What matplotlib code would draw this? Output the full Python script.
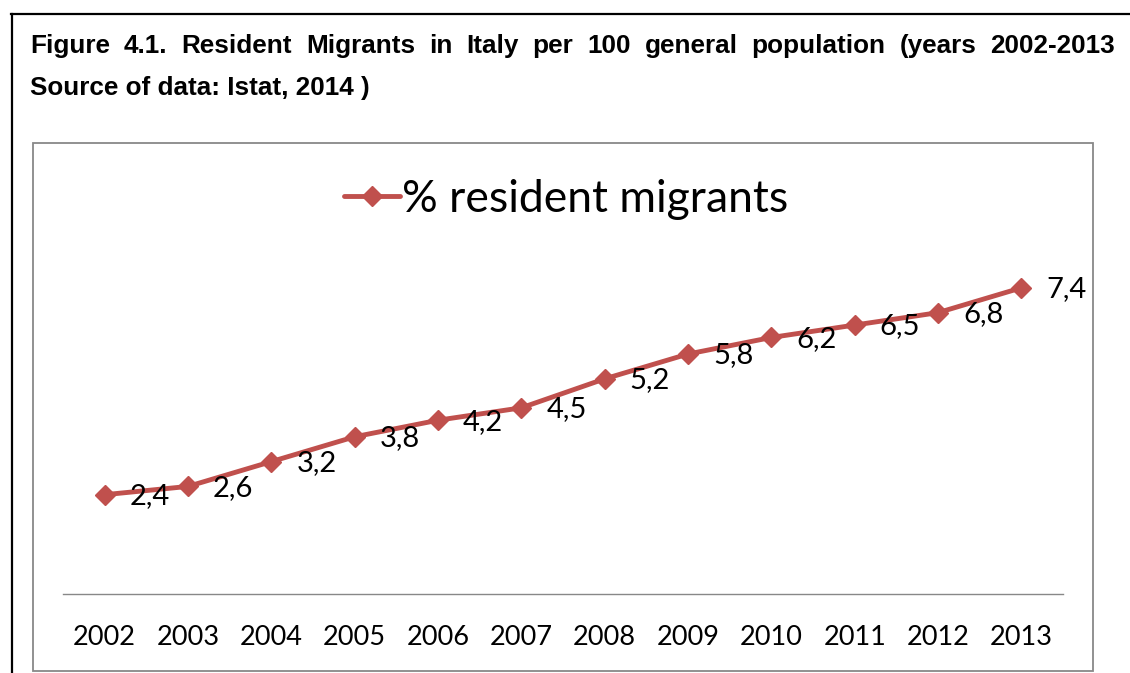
import matplotlib
matplotlib.use('Agg')
import matplotlib.pyplot as plt
from matplotlib.patches import Rectangle
from matplotlib.lines import Line2D

years = ['2002', '2003', '2004', '2005', '2006', '2007',
         '2008', '2009', '2010', '2011', '2012', '2013']
migrants = [2.4, 2.6, 3.2, 3.8, 4.2, 4.5, 5.2, 5.8, 6.2, 6.5, 6.8, 7.4]
labels = ['2,4', '2,6', '3,2', '3,8', '4,2', '4,5',
          '5,2', '5,8', '6,2', '6,5', '6,8', '7,4']

title_line1 = 'Figure 4.1. Resident Migrants in Italy per 100 general population (years 2002-2013'
title_line2 = 'Source of data: Istat, 2014 )'

RED = '#C0504D'
W, H = 1130, 673

fig = plt.figure(figsize=(W / 100, H / 100), dpi=100)

# document frame (black) and chart frame (grey)
fig.add_artist(Line2D([12 / W, 12 / W], [0, 1 - 14 / H], color='black', lw=1.6,
                      transform=fig.transFigure))
fig.add_artist(Line2D([11 / W, 1], [1 - 14 / H, 1 - 14 / H], color='black', lw=1.6,
                      transform=fig.transFigure))
fig.add_artist(Rectangle((33 / W, 1 - 671 / H), (1093 - 33) / W, (671 - 143) / H,
                         fill=False, edgecolor='#888888', lw=1.3,
                         transform=fig.transFigure))

# justified first title line
tfont = dict(family='Liberation Sans', weight='bold', fontsize=18.8)
renderer = fig.canvas.get_renderer()
words = title_line1.split(' ')
x0, x1 = 30, 1115
widths = []
for w in words:
    t = fig.text(0, 0, w, **tfont)
    widths.append(t.get_window_extent(renderer).width)
    t.remove()
gap = (x1 - x0 - sum(widths)) / (len(words) - 1)
x = x0
for w, wd in zip(words, widths):
    fig.text(x / W, 1 - 46 / H, w, va='center', ha='left', **tfont)
    x += wd + gap
fig.text(x0 / W, 1 - 88 / H, title_line2, va='center', ha='left', **tfont)

# plot area: y from 0 to 8, axis line at y=594 px
ax = fig.add_axes([63 / W, 1 - 594 / H, 1000 / W, (594 - 263) / H])
xs = range(len(years))
line, = ax.plot(xs, migrants, color=RED, lw=3.5, marker='D', markersize=10,
                markerfacecolor=RED, markeredgecolor=RED, solid_capstyle='round',
                label='% resident migrants')
for xi, v, lab in zip(xs, migrants, labels):
    ax.annotate(lab, (xi, v), xytext=(18, -1), textcoords='offset points',
                ha='left', va='center', fontsize=21, family='Lato')

ax.set_xlim(-0.5, len(years) - 0.5)
ax.set_ylim(0, 8)
ax.set_xticks(list(xs))
ax.set_xticklabels(years, fontsize=19.5, family='Lato')
ax.tick_params(axis='x', length=0, pad=22)
ax.set_yticks([])
for side in ['left', 'right', 'top']:
    ax.spines[side].set_visible(False)
ax.spines['bottom'].set_color('#888888')
ax.spines['bottom'].set_linewidth(1.0)
ax.patch.set_visible(False)

fig.legend(handles=[line], loc='center', bbox_to_anchor=(566 / W, 1 - 199 / H),
           frameon=False, prop={'family': 'Lato', 'size': 32},
           handlelength=1.25, handletextpad=0.05, borderpad=0)

fig.savefig('out.png', dpi=100)
